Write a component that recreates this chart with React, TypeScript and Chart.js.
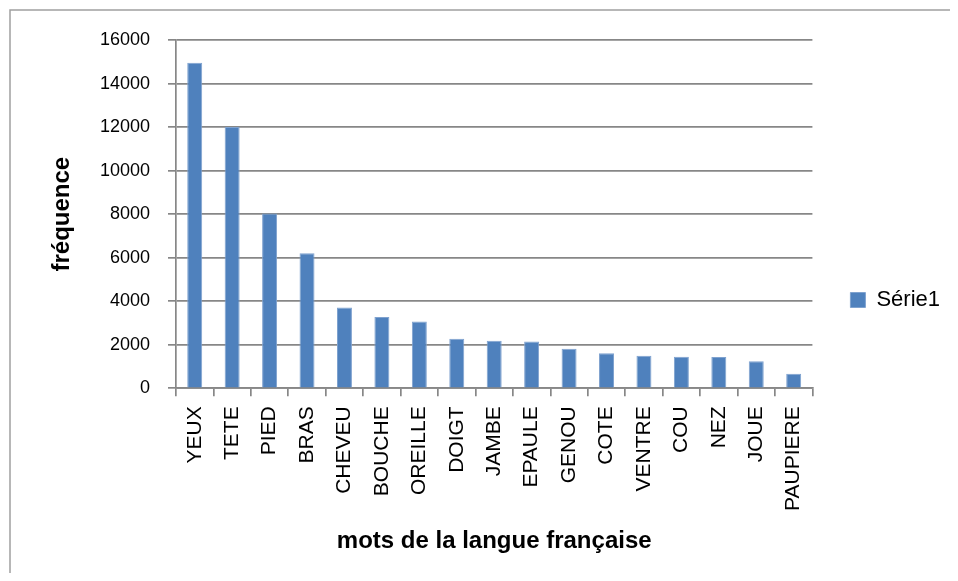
import React, { useEffect, useRef } from "react";
import { Chart, registerables } from "chart.js";

Chart.register(...registerables);

const categories = [
  "YEUX", "TETE", "PIED", "BRAS", "CHEVEU", "BOUCHE", "OREILLE", "DOIGT", "JAMBE",
  "EPAULE", "GENOU", "COTE", "VENTRE", "COU", "NEZ", "JOUE", "PAUPIERE",
];
const serie1 = [14950, 12000, 8030, 6200, 3710, 3270, 3070, 2280, 2185, 2155, 1815, 1615, 1490, 1445, 1440, 1240, 670];
const seriesName = "Série1";
const yTitle = "fréquence";
const xTitle = "mots de la langue française";
const yMin = 0;
const yMax = 16000;
const yStep = 2000;

const W = 942;
const H = 565;

const borderPlugin = {
  id: "outerBorder",
  beforeDraw(chart: any) {
    const ctx = chart.ctx;
    ctx.save();
    ctx.strokeStyle = "#a0a0a0";
    ctx.lineWidth = 1.5;
    ctx.beginPath();
    ctx.moveTo(2, H + 5);
    ctx.lineTo(2, 2);
    ctx.lineTo(W + 5, 2);
    ctx.stroke();
    ctx.restore();
  },
};

export default function App() {
  const ref = useRef<HTMLCanvasElement | null>(null);
  useEffect(() => {
    if (!ref.current) return;
    const gridColor = "#878787";
    const chart = new Chart(ref.current, {
      type: "bar",
      data: {
        labels: categories,
        datasets: [
          {
            label: seriesName,
            data: serie1,
            backgroundColor: "#4F81BD",
            borderColor: "#7fa2cf",
            borderWidth: 1,
            barPercentage: 0.4,
            categoryPercentage: 1,
          },
        ],
      },
      options: {
        animation: false,
        responsive: true,
        maintainAspectRatio: false,
        layout: { padding: { top: 32, left: 0, right: 0, bottom: 13 } },
        plugins: {
          tooltip: { enabled: false },
          legend: {
            position: "right",
            align: "center",
            labels: {
              boxWidth: 15,
              boxHeight: 15,
              padding: 38,
              color: "#000",
              font: { family: "'Liberation Sans', Arial, sans-serif", size: 22 },
            },
          },
        },
        scales: {
          x: {
            grid: {
              drawOnChartArea: false,
              drawTicks: true,
              tickLength: 8,
              color: gridColor,
              lineWidth: 1.7,
            },
            border: { color: gridColor, width: 1.7 },
            ticks: {
              autoSkip: false,
              minRotation: 90,
              maxRotation: 90,
              padding: 10,
              color: "#000",
              font: { family: "'Liberation Sans', Arial, sans-serif", size: 21 },
            },
            title: {
              display: true,
              text: xTitle,
              color: "#000",
              padding: { top: 0, bottom: 4.6 },
              font: { family: "'Liberation Sans', Arial, sans-serif", size: 24, weight: "bold" },
            },
            afterFit(scale: any) {
              scale.height = 171.7;
            },
          },
          y: {
            min: yMin,
            max: yMax,
            grid: {
              tickLength: 8,
              color: gridColor,
              lineWidth: 1.7,
            },
            border: { color: gridColor, width: 1.7 },
            ticks: {
              stepSize: yStep,
              padding: 18,
              color: "#000",
              font: { family: "'Liberation Sans', Arial, sans-serif", size: 18 },
              callback: (v: any) => String(v),
            },
            title: {
              display: true,
              text: yTitle,
              color: "#000",
              padding: { top: 40.1, bottom: 0 },
              font: { family: "'Liberation Sans', Arial, sans-serif", size: 24, weight: "bold" },
            },
            afterFit(scale: any) {
              scale.width = 168;
            },
          },
        },
      },
      plugins: [borderPlugin],
    });
    return () => chart.destroy();
  }, []);
  return (
    <div style={{ position: "relative", width: W, height: H }}>
      <canvas ref={ref} />
    </div>
  );
}
